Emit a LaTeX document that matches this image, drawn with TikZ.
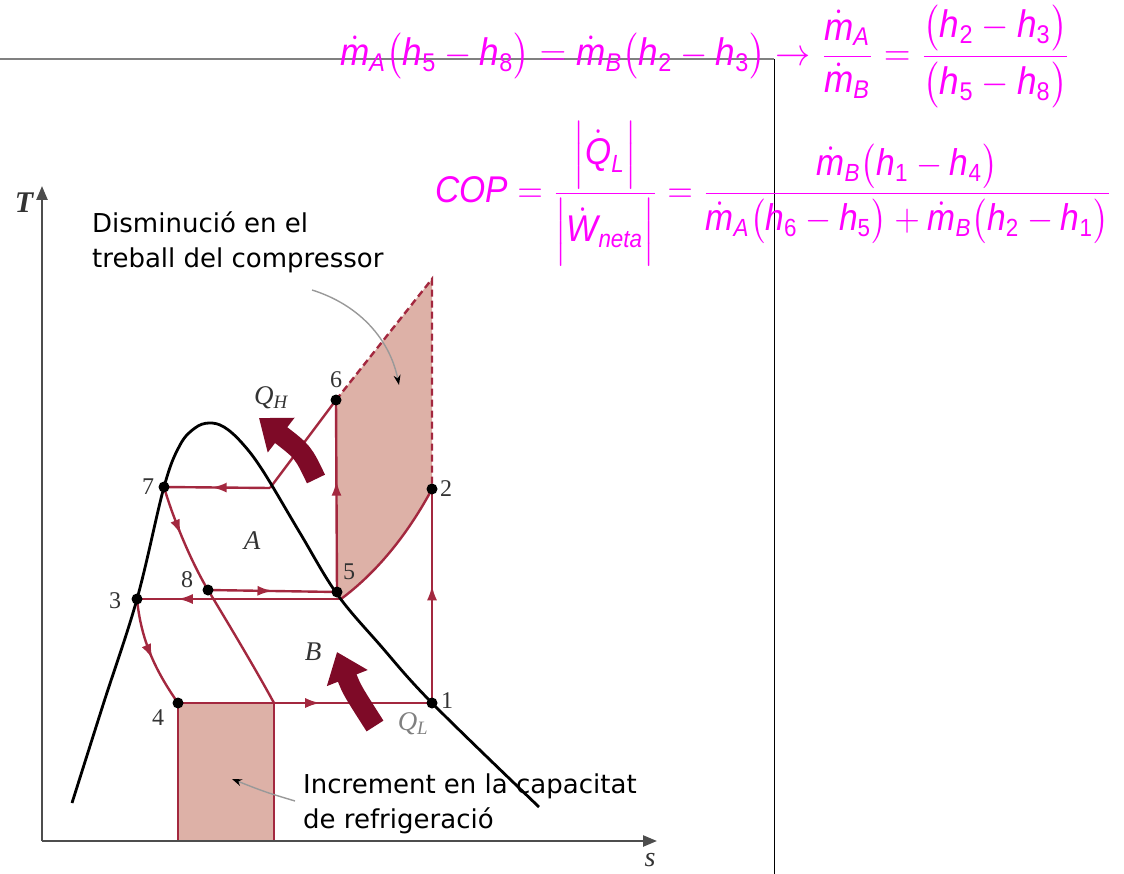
\documentclass[tikz,border=0pt]{standalone}
\usepackage{fontspec}
\usepackage{amsmath}
\usepackage{graphicx}
\usetikzlibrary{arrows.meta,decorations.markings}
\newfontfamily\eqfont{Liberation Sans}
\newfontfamily\lblfont{Liberation Serif}
\newfontfamily\annfont{DejaVu Sans}
\newcommand\ev[1]{\text{\eqfont\itshape #1}}
\newcommand\en[1]{\text{\eqfont #1}}
\newcommand\md[1]{\dot{\ev{m}}_{\ev{#1}}}
\newcommand\hh[1]{\ev{h}_{\en{#1}}}
\definecolor{cycred}{HTML}{A3283F}
\definecolor{shadefill}{HTML}{DDB1A7}
\definecolor{qred}{HTML}{7E0A27}
\definecolor{axisgray}{HTML}{4D4D4D}
\definecolor{lblgray}{HTML}{333333}
\definecolor{eqmag}{RGB}{255,0,255}
\begin{document}
\begin{tikzpicture}[x=1pt,y=-1pt,
  cyc/.style={draw=cycred, line width=2.4pt},
  midarrow/.style={decoration={markings, mark=at position #1 with {\arrow{Latex[length=15pt,width=10pt]}}}, postaction={decorate}},
  dot/.style={circle, fill=black, inner sep=0pt, minimum size=11pt},
  num/.style={font=\fontsize{24}{24}\selectfont\lblfont, text=lblgray},
  qlab/.style={font=\fontsize{27}{27}\selectfont\lblfont\itshape, text=lblgray},
  qarrow/.style={draw=qred, line width=20pt, -{Triangle[length=28pt,width=42pt]}},
  ann/.style={font=\fontsize{26}{26}\selectfont\annfont, anchor=base west, inner sep=0pt},
  gline/.style={draw=gray!80, line width=1.4pt, -{Stealth[length=10pt,width=7pt,color=black]}},
  axis/.style={draw=axisgray, line width=2.4pt, -{Triangle[length=14pt,width=11pt]}},
  eq/.style={text=eqmag, font=\fontsize{12}{14}\selectfont, anchor=base west, inner sep=0pt}
]
\useasboundingbox (0,0) rectangle (1124,874);

% frame lines
\coordinate (fl) at (0,59);
\coordinate (fc) at (774,59);
\coordinate (fb) at (774,874);
\draw[gray, line width=2pt] (fl) -- (fc);
\draw[black, line width=1pt] (fc) -- (fb);

% equations
\node[eq] (eq1) at (340,66) {\scalebox{2.93}[3.2]{$\md{A}\bigl(\hh5-\hh8\bigr)=\md{B}\bigl(\hh2-\hh3\bigr)\rightarrow\dfrac{\md{A}}{\md{B}}=\dfrac{\bigl(\hh2-\hh3\bigr)}{\bigl(\hh5-\hh8\bigr)}$}};
\node[eq] (eq2) at (435,203) {\scalebox{2.8}[3.1]{$\ev{COP}=\dfrac{\Bigl|\dot{\ev{Q}}_{\ev{L}}\Bigr|}{\Bigl|\dot{\ev{W}}_{\ev{neta}}\Bigr|}=\dfrac{\md{B}\bigl(\hh1-\hh4\bigr)}{\md{A}\bigl(\hh6-\hh5\bigr)+\md{B}\bigl(\hh2-\hh1\bigr)}$}};

% points
\coordinate (p1) at (432,703);
\coordinate (p2) at (432,489);
\coordinate (p3) at (137,599);
\coordinate (p4) at (178,703);
\coordinate (p5) at (337,592);
\coordinate (p6) at (336,400);
\coordinate (p7) at (164,487);
\coordinate (p8) at (208,590);
\coordinate (ptop) at (432,279);
\coordinate (p5b) at (341,599);
\coordinate (pk) at (270,488);
\coordinate (pr) at (274,703);
\coordinate (rb1) at (178,841);
\coordinate (rb2) at (274,841);

% shaded areas
\fill[shadefill] (p5) -- (p6) -- (ptop) -- (p2) .. controls (410,530) and (380,570) .. (p5b) -- cycle;
\fill[shadefill] (p4) rectangle (rb2);
\draw[cyc, line width=1.8pt] (p4) -- (rb1);
\draw[cyc, line width=1.8pt] (pr) -- (rb2);
\draw[cyc, dashed, dash pattern=on 7pt off 4pt] (p6) -- (ptop) -- (p2);

% axes
\coordinate (o) at (42,841);
\coordinate (tend) at (42,186);
\coordinate (send) at (657,841);
\draw[axis] (o) -- (tend);
\draw[axis] (o) -- (send);
\node[font=\fontsize{30}{30}\selectfont\lblfont\itshape\bfseries, text=lblgray] (tlab) at (24,203) {T};
\node[font=\fontsize{28}{28}\selectfont\lblfont\itshape, text=lblgray] (slab) at (650,860) {s};

% cycle lines
\draw[cyc, midarrow=0.56] (p4) -- (p1);
\draw[cyc, midarrow=0.55] (p1) -- (p2);
\draw[cyc] (p2) .. controls (410,530) and (380,570) .. (p5b);
\draw[cyc, midarrow=0.8] (p5b) -- (p3);
\draw[cyc, midarrow=0.5] (p8) -- (p5);
\draw[cyc, midarrow=0.58] (p5) -- (p6);
\draw[cyc] (p6) -- (pk);
\draw[cyc, midarrow=0.55] (pk) -- (p7);
\draw[cyc, midarrow=0.45] (p7) .. controls (172,515) and (190,560) .. (p8);
\draw[cyc] (p8) .. controls (225,618) and (255,668) .. (pr);
\draw[cyc, midarrow=0.55] (p3) .. controls (141,640) and (155,670) .. (p4);

% saturation dome
\draw[black, line width=2.8pt] plot[smooth, tension=0.6] coordinates {(72,803) (103,705) (p3) (p7) (180,445) (195,428) (209,423) (224,427) (242,443) (263,471) (300,533) (337,594) (380,645) (p1) (539,807)};

% big heat arrows
\coordinate (qht) at (316,479);
\coordinate (qhh) at (259,418);
\draw[qarrow] (qht) .. controls (303,452) .. (qhh);
\coordinate (qlt) at (375,726);
\coordinate (qlh) at (337,652);
\draw[qarrow] (qlt) .. controls (352,690) .. (qlh);

% dots
\foreach \p in {1,...,8} {\node[dot] (d\p) at (p\p) {};}

% labels
\node[num] (l1) at (447,701) {1};
\node[num] (l2) at (446,489) {2};
\node[num] (l3) at (115,601) {3};
\node[num] (l4) at (158,718) {4};
\node[num] (l5) at (349,572) {5};
\node[num] (l6) at (336,380) {6};
\node[num] (l7) at (148,487) {7};
\node[num] (l8) at (187,580) {8};
\node[qlab] (la) at (252,541) {A};
\node[qlab] (lb) at (313,652) {B};
\node[qlab] (qh) at (271,398) {Q\textsubscript{H}};
\node[qlab, text=gray] (ql) at (413,724) {Q\textsubscript{L}};

% annotations
\node[ann] (dis1) at (92,233) {Disminució en el};
\node[ann] (dis2) at (92,268) {treball del compressor};
\node[ann] (inc1) at (303,793) {Increment en la capacitat};
\node[ann] (inc2) at (303,828) {de refrigeració};
\coordinate (ga1) at (312,290);
\coordinate (ga2) at (399,385);
\draw[gline] (ga1) .. controls (360,305) and (390,340) .. (ga2);
\coordinate (gb1) at (295,801);
\coordinate (gb2) at (232,779);
\draw[gline] (gb1) .. controls (265,792) .. (gb2);
\end{tikzpicture}
\end{document}
